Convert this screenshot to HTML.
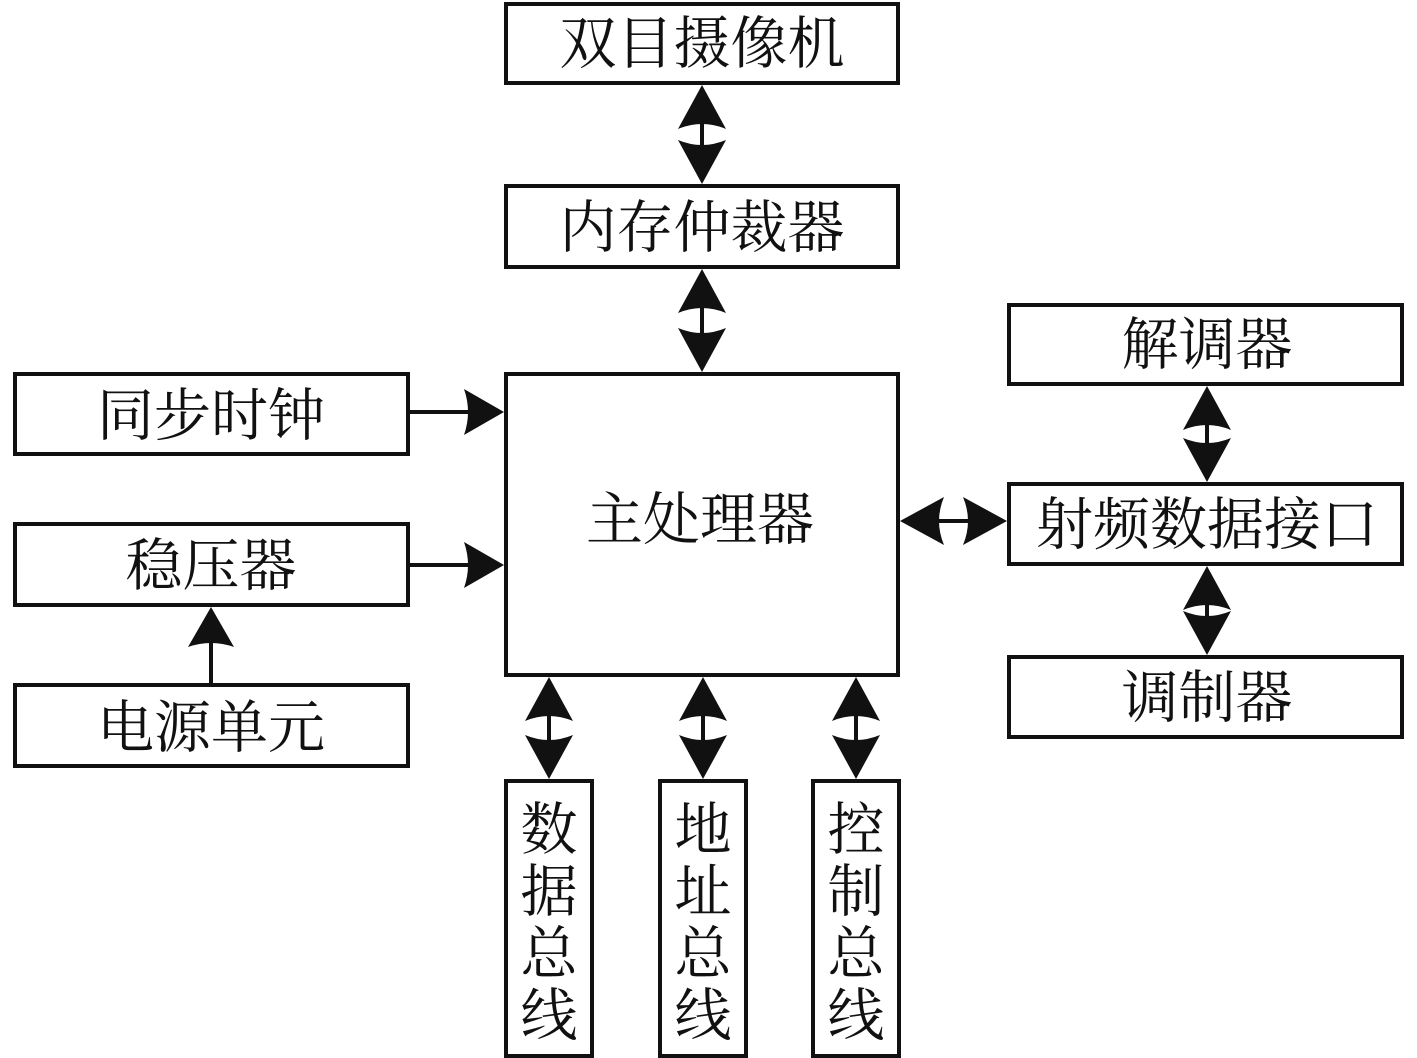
<!DOCTYPE html>
<html><head><meta charset="utf-8"><style>
html,body{margin:0;padding:0;background:#fff;}
svg{display:block;}
text{font-family:"Liberation Serif","Noto Serif CJK SC",serif;fill:#111;}
</style></head><body>
<svg width="1417" height="1058" viewBox="0 0 1417 1058" xmlns="http://www.w3.org/2000/svg">
<defs>
<path id="h" d="M0,0 L24,44 Q0,34 -24,44 Z" fill="#111"/>
<path id="s" d="M0,0 L23,40 Q0,32 -23,40 Z" fill="#111"/>
</defs>
<g fill="none" stroke="#111" stroke-width="4">
<rect x="506" y="4" width="392" height="79"/>
<rect x="506" y="186" width="392" height="81"/>
<rect x="506" y="374" width="392" height="301"/>
<rect x="15" y="374" width="393" height="80"/>
<rect x="15" y="524" width="393" height="81"/>
<rect x="15" y="685" width="393" height="81"/>
<rect x="1009" y="305" width="393" height="79"/>
<rect x="1009" y="484" width="393" height="80"/>
<rect x="1009" y="657" width="393" height="80"/>
<rect x="506" y="781" width="86" height="275"/>
<rect x="660" y="781" width="86" height="275"/>
<rect x="813" y="781" width="86" height="275"/>
<line x1="702" y1="110" x2="702" y2="160"/>
<line x1="702" y1="292" x2="702" y2="350"/>
<line x1="549" y1="700" x2="549" y2="755"/>
<line x1="703" y1="700" x2="703" y2="755"/>
<line x1="856" y1="700" x2="856" y2="755"/>
<line x1="1207" y1="410" x2="1207" y2="458"/>
<line x1="1207" y1="590" x2="1207" y2="630"/>
<line x1="925" y1="521" x2="980" y2="521"/>
<line x1="408" y1="412" x2="475" y2="412"/>
<line x1="408" y1="565" x2="475" y2="565"/>
<line x1="211" y1="684" x2="211" y2="640"/>
</g>
<use href="#h" transform="translate(702,85)"/>
<use href="#h" transform="translate(702,184) rotate(180)"/>
<use href="#h" transform="translate(702,269)"/>
<use href="#h" transform="translate(702,372) rotate(180)"/>
<use href="#h" transform="translate(549,677)"/>
<use href="#h" transform="translate(549,779) rotate(180)"/>
<use href="#h" transform="translate(703,677)"/>
<use href="#h" transform="translate(703,779) rotate(180)"/>
<use href="#h" transform="translate(856,677)"/>
<use href="#h" transform="translate(856,779) rotate(180)"/>
<use href="#h" transform="translate(1207,386)"/>
<use href="#h" transform="translate(1207,482) rotate(180)"/>
<use href="#h" transform="translate(1207,566)"/>
<use href="#h" transform="translate(1207,655) rotate(180)"/>
<use href="#h" transform="translate(900,521) rotate(-90)"/>
<use href="#h" transform="translate(1007,521) rotate(90)"/>
<use href="#s" transform="translate(504,412) rotate(90)"/>
<use href="#s" transform="translate(504,565) rotate(90)"/>
<use href="#s" transform="translate(211,607)"/>
<g font-size="57" text-anchor="middle">
<text x="702" y="63">双目摄像机</text>
<text x="702" y="247">内存仲裁器</text>
<text x="700" y="539">主处理器</text>
<text x="211" y="435">同步时钟</text>
<text x="211" y="585">稳压器</text>
<text x="211" y="747">电源单元</text>
<text x="1207" y="364">解调器</text>
<text x="1207" y="544">射频数据接口</text>
<text x="1207" y="717">调制器</text>
</g>
<g font-size="57" text-anchor="middle">
<text x="549" y="849">数</text><text x="549" y="911">据</text><text x="549" y="973">总</text><text x="549" y="1035">线</text>
<text x="703" y="849">地</text><text x="703" y="911">址</text><text x="703" y="973">总</text><text x="703" y="1035">线</text>
<text x="856" y="849">控</text><text x="856" y="911">制</text><text x="856" y="973">总</text><text x="856" y="1035">线</text>
</g>
</svg>
</body></html>
